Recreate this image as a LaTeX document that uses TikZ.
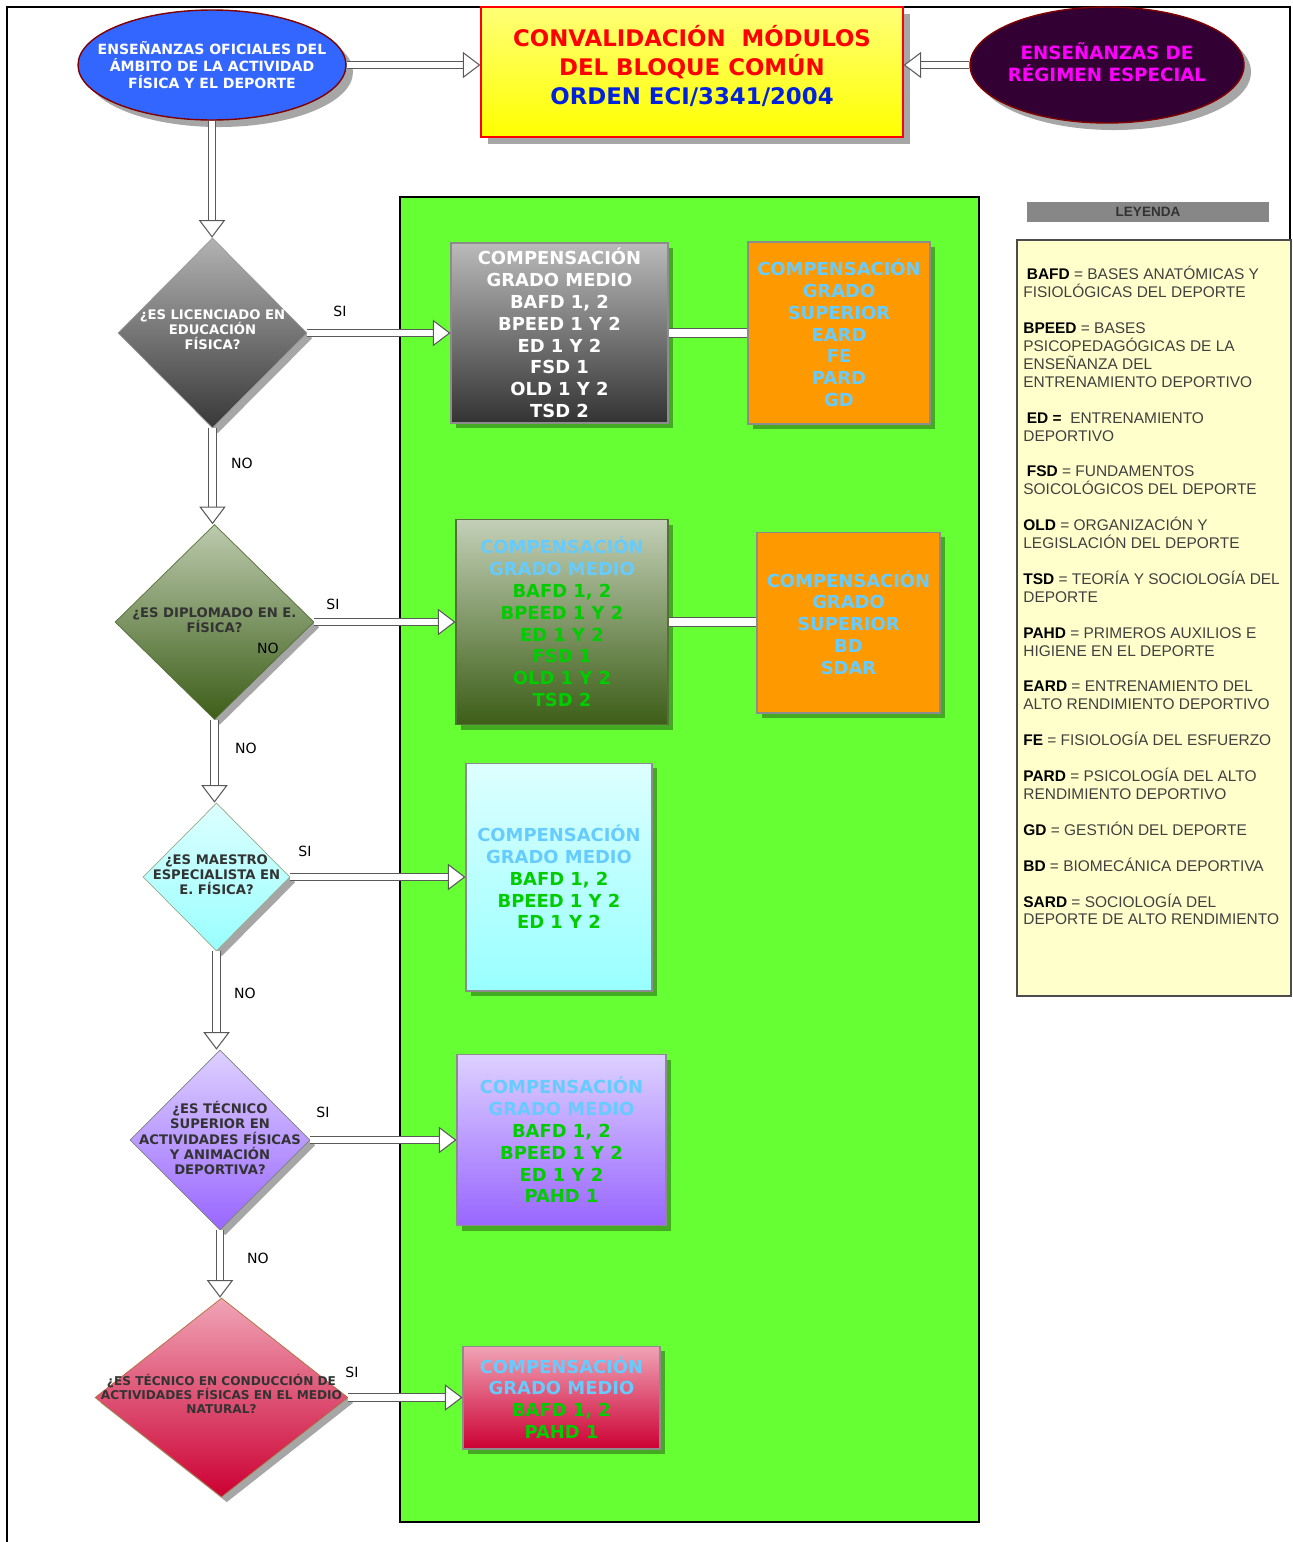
\documentclass[tikz,border=0pt]{standalone}
\usepackage{fontspec}
\setmainfont{DejaVu Sans}
\newfontfamily\legfont{Liberation Sans}
\usepackage{tikz}
\usetikzlibrary{shapes,shapes.geometric,arrows.meta,shadows}
\usetikzlibrary{positioning}

\definecolor{panelgreen}{HTML}{66FF33}
\definecolor{shadegreen}{HTML}{44AA22}
\definecolor{compblue}{HTML}{66CCFF}
\definecolor{compgreen}{HTML}{00CC00}
\definecolor{boxorange}{HTML}{FF9900}
\definecolor{ovalblue}{HTML}{3366FF}
\definecolor{ovalrim}{HTML}{800000}
\definecolor{ovalplum}{HTML}{330033}
\definecolor{hotmagenta}{HTML}{FF00FF}
\definecolor{titlered}{HTML}{FF0000}
\definecolor{titleblue}{HTML}{0022DD}
\definecolor{titleyellow}{HTML}{FFFF00}
\definecolor{paleyellow}{HTML}{FFFF77}
\definecolor{legyellow}{HTML}{FFFFCC}
\definecolor{olivetop}{HTML}{BCCAAE}
\definecolor{olivebot}{HTML}{3D5E18}
\definecolor{olivedraw}{HTML}{55703A}
\definecolor{cyantop}{HTML}{DDFFFF}
\definecolor{cyanbot}{HTML}{99FFFF}
\definecolor{lilactop}{HTML}{DDD0FF}
\definecolor{lilacbot}{HTML}{9966FF}
\definecolor{rosetop}{HTML}{F0A4B6}
\definecolor{rosebot}{HTML}{CC0033}
\definecolor{rosedraw}{HTML}{B0703A}

\tikzstyle{box} = [rectangle, draw=black!45, line width=0.6pt, inner sep=0pt,
    align=center, font=\bfseries\fontsize{10.2}{12.4}\selectfont,
    drop shadow={shadow xshift=3pt, shadow yshift=-3pt, fill=shadegreen, opacity=1}]
\tikzstyle{decision} = [diamond, aspect=1, inner sep=0pt, draw=black!40,
    drop shadow={shadow xshift=3pt, shadow yshift=-3pt, fill=black!35, opacity=1}]
\tikzstyle{oval} = [ellipse, inner sep=0pt, draw=ovalrim, line width=0.8pt,
    drop shadow={shadow xshift=4pt, shadow yshift=-4pt, fill=black!35, opacity=1}]
\tikzstyle{qtext} = [align=center, inner sep=0pt, text=black!80,
    font=\bfseries\fontsize{7.5}{8.6}\selectfont]
\tikzstyle{flow} = [draw=black!65, line width=0.6pt, double=white, double distance=3.6pt,
    -{Triangle[open, fill=white, length=10pt, width=15pt]}]
\tikzstyle{link} = [draw=black!65, line width=0.6pt, double=white, double distance=4pt]
\tikzstyle{tag} = [font=\fontsize{8}{9}\selectfont, inner sep=0pt]

\def\cb#1{\textcolor{compblue}{#1}}
\def\cg#1{\textcolor{compgreen}{#1}}

\begin{document}
\begin{tikzpicture}[x=0.02cm, y=-0.02cm]
\useasboundingbox (0,0) rectangle (1292,1542);
\draw[line width=1pt] (7,1542) -- (7,7) -- (1290,7) -- (1290,240);

% panel and legend
\draw[fill=panelgreen, line width=0.8pt] (400,197) rectangle (979,1522);
\draw[fill=legyellow, draw=black!70, line width=0.8pt] (1017,240) rectangle (1291,996);
\node[fill=black!47, minimum width=4.84cm, minimum height=0.4cm, inner sep=0pt,
    text=black!80, font=\legfont\bfseries\fontsize{7.7}{9}\selectfont] (leyenda) at (1148,212) {LEYENDA};
\node[anchor=north west, align=left, inner sep=0pt, text=black!75,
    font=\legfont\fontsize{8.8}{10.2}\selectfont] (defs) at (1023,266) {%
\hspace{2pt}\textcolor{black}{\textbf{BAFD}} = BASES ANATÓMICAS Y\\ FISIOLÓGICAS DEL DEPORTE\\[10.2pt]
\textcolor{black}{\textbf{BPEED}} = BASES\\ PSICOPEDAGÓGICAS DE LA\\ ENSEÑANZA DEL\\ ENTRENAMIENTO DEPORTIVO\\[10.2pt]
\hspace{2pt}\textcolor{black}{\textbf{ED =}}\ \ ENTRENAMIENTO\\ DEPORTIVO\\[10.2pt]
\hspace{2pt}\textcolor{black}{\textbf{FSD}} = FUNDAMENTOS\\ SOICOLÓGICOS DEL DEPORTE\\[10.2pt]
\textcolor{black}{\textbf{OLD}} = ORGANIZACIÓN Y\\ LEGISLACIÓN DEL DEPORTE\\[10.2pt]
\textcolor{black}{\textbf{TSD}} = TEORÍA Y SOCIOLOGÍA DEL\\ DEPORTE\\[10.2pt]
\textcolor{black}{\textbf{PAHD}} = PRIMEROS AUXILIOS E\\ HIGIENE EN EL DEPORTE\\[10.2pt]
\textcolor{black}{\textbf{EARD}} = ENTRENAMIENTO DEL\\ ALTO RENDIMIENTO DEPORTIVO\\[10.2pt]
\textcolor{black}{\textbf{FE}} = FISIOLOGÍA DEL ESFUERZO\\[10.2pt]
\textcolor{black}{\textbf{PARD}} = PSICOLOGÍA DEL ALTO\\ RENDIMIENTO DEPORTIVO\\[10.2pt]
\textcolor{black}{\textbf{GD}} = GESTIÓN DEL DEPORTE\\[10.2pt]
\textcolor{black}{\textbf{BD}} = BIOMECÁNICA DEPORTIVA\\[10.2pt]
\textcolor{black}{\textbf{SARD}} = SOCIOLOGÍA DEL\\ DEPORTE DE ALTO RENDIMIENTO};

% top row
\node[oval, fill=ovalblue, minimum width=5.36cm, minimum height=2.2cm] (oficial) at (212,65) {};
\node[align=center, inner sep=0pt, text=white, font=\bfseries\fontsize{8}{9.6}\selectfont]
    (oficialtxt) at (oficial) {ENSEÑANZAS OFICIALES DEL\\ÁMBITO DE LA ACTIVIDAD\\FÍSICA Y EL DEPORTE};
\node[oval, fill=ovalplum, minimum width=5.48cm, minimum height=2.32cm] (especial) at (1107,65) {};
\node[align=center, inner sep=0pt, text=hotmagenta, font=\bfseries\fontsize{10.4}{12.5}\selectfont]
    (especialtxt) at (1107,62) {ENSEÑANZAS DE\\RÉGIMEN ESPECIAL};
\node[rectangle, draw=titlered, line width=0.8pt, top color=paleyellow, bottom color=titleyellow,
    minimum width=8.44cm, minimum height=2.6cm, inner sep=0pt,
    drop shadow={shadow xshift=4pt, shadow yshift=-4pt, fill=black!35, opacity=1}] (titulo) at (692,72) {};
\node[align=center, inner sep=0pt, font=\bfseries\fontsize{13}{16.5}\selectfont] (titulotxt) at (692,66)
    {\textcolor{titlered}{CONVALIDACIÓN\ \ MÓDULOS}\\\textcolor{titlered}{DEL BLOQUE COMÚN}\\\textcolor{titleblue}{ORDEN ECI/3341/2004}};

% questions
\node[decision, top color=black!30, bottom color=black!78, minimum width=3.78cm, minimum height=3.8cm] (licen) at (212.5,333) {};
\node[qtext, text=white] (licentxt) at (212.5,330) {¿ES LICENCIADO EN\\EDUCACIÓN\\FÍSICA?};
\node[decision, top color=olivetop, bottom color=olivebot, draw=olivedraw,
    minimum width=3.98cm, minimum height=3.9cm] (diplo) at (214.5,622) {};
\node[qtext] (diplotxt) at (214.5,620) {¿ES DIPLOMADO EN E.\\FÍSICA?};
\node[decision, top color=cyantop, bottom color=cyanbot, draw=olivedraw!60,
    minimum width=2.94cm, minimum height=2.96cm] (maestro) at (216.5,877) {};
\node[qtext] (maestrotxt) at (216.5,875) {¿ES MAESTRO\\ESPECIALISTA EN\\E. FÍSICA?};
\node[decision, top color=lilactop, bottom color=lilacbot, draw=black!50,
    minimum width=3.6cm, minimum height=3.6cm] (tafad) at (220,1140) {};
\node[qtext] (tafadtxt) at (220,1138) {¿ES TÉCNICO\\SUPERIOR EN\\ACTIVIDADES FÍSICAS\\Y ANIMACIÓN\\DEPORTIVA?};
\node[decision, top color=rosetop, bottom color=rosebot, draw=rosedraw,
    minimum width=5.06cm, minimum height=3.98cm] (conduc) at (221.5,1397.5) {};
\node[qtext, font=\bfseries\fontsize{6.9}{8.1}\selectfont] (conductxt) at (221.5,1394)
    {¿ES TÉCNICO EN CONDUCCIÓN DE\\ACTIVIDADES FÍSICAS EN EL MEDIO\\NATURAL?};

% compensations
\node[box, top color=black!27, bottom color=black!80, text=white,
    minimum width=4.34cm, minimum height=3.6cm] (gm1) at (559.5,333)
    {COMPENSACIÓN\\GRADO MEDIO\\BAFD 1, 2\\BPEED 1 Y 2\\ED 1 Y 2\\FSD 1\\OLD 1 Y 2\\TSD 2};
\node[box, fill=boxorange, text=compblue, minimum width=3.64cm, minimum height=3.64cm] (gs1) at (839,333)
    {COMPENSACIÓN\\GRADO\\SUPERIOR\\EARD\\FE\\PARD\\GD};
\node[box, top color=olivetop!90!white, bottom color=olivebot, draw=olivedraw, minimum width=4.24cm, minimum height=4.1cm] (gm2) at (562,622)
    {\cb{COMPENSACIÓN}\\\cb{GRADO MEDIO}\\\cg{BAFD 1, 2}\\\cg{BPEED 1 Y 2}\\\cg{ED 1 Y 2}\\\cg{FSD 1}\\\cg{OLD 1 Y 2}\\\cg{TSD 2}};
\node[box, fill=boxorange, text=compblue, minimum width=3.66cm, minimum height=3.62cm] (gs2) at (848.5,622.5)
    {COMPENSACIÓN\\GRADO\\SUPERIOR\\BD\\SDAR};
\node[box, top color=cyantop, bottom color=cyanbot, minimum width=3.72cm, minimum height=4.56cm] (gm3) at (559,877)
    {\cb{COMPENSACIÓN}\\\cb{GRADO MEDIO}\\\cg{BAFD 1, 2}\\\cg{BPEED 1 Y 2}\\\cg{ED 1 Y 2}};
\node[box, top color=lilactop, bottom color=lilacbot, minimum width=4.18cm, minimum height=3.42cm] (gm4) at (561.5,1140)
    {\cb{COMPENSACIÓN}\\\cb{GRADO MEDIO}\\\cg{BAFD 1, 2}\\\cg{BPEED 1 Y 2}\\\cg{ED 1 Y 2}\\\cg{PAHD 1}};
\node[box, top color=rosetop, bottom color=rosebot, minimum width=3.94cm, minimum height=2.06cm] (gm5) at (561.5,1397.5)
    {\cb{COMPENSACIÓN}\\\cb{GRADO MEDIO}\\\cg{BAFD 1, 2}\\\cg{PAHD 1}};

% connectors
\draw[flow] (oficial.east) -- (oficial.east -| titulo.west);
\draw[flow] (especial.west) -- (especial.west -| titulo.east);
\draw[flow] (oficial.south) -- (oficial.south |- licen.north);
\draw[flow] (licen.south) -- (licen.south |- diplo.north);
\draw[flow] (diplo.south) -- (diplo.south |- maestro.north);
\draw[flow] (maestro.south) -- (maestro.south |- tafad.north);
\draw[flow] (tafad.south) -- (tafad.south |- conduc.north);
\draw[flow] (licen.east) -- (gm1.west);
\draw[flow] (diplo.east) -- (gm2.west);
\draw[flow] (maestro.east) -- (gm3.west);
\draw[flow] (tafad.east) -- (gm4.west);
\draw[flow] (conduc.east) -- (gm5.west);
\draw[link] (gm1.east) -- (gs1.west);
\draw[link] (gm2.east) -- (gm2.east -| gs2.west);

% labels
\node[tag] (si1) at (340,311) {SI};
\node[tag] (si2) at (333,604) {SI};
\node[tag] (si3) at (305,851) {SI};
\node[tag] (si4) at (323,1112) {SI};
\node[tag] (si5) at (352,1372) {SI};
\node[tag] (no1) at (242,463) {NO};
\node[tag] (no2) at (268,648) {NO};
\node[tag] (no3) at (246,748) {NO};
\node[tag] (no4) at (245,993) {NO};
\node[tag] (no5) at (258,1258) {NO};
\end{tikzpicture}
\end{document}
